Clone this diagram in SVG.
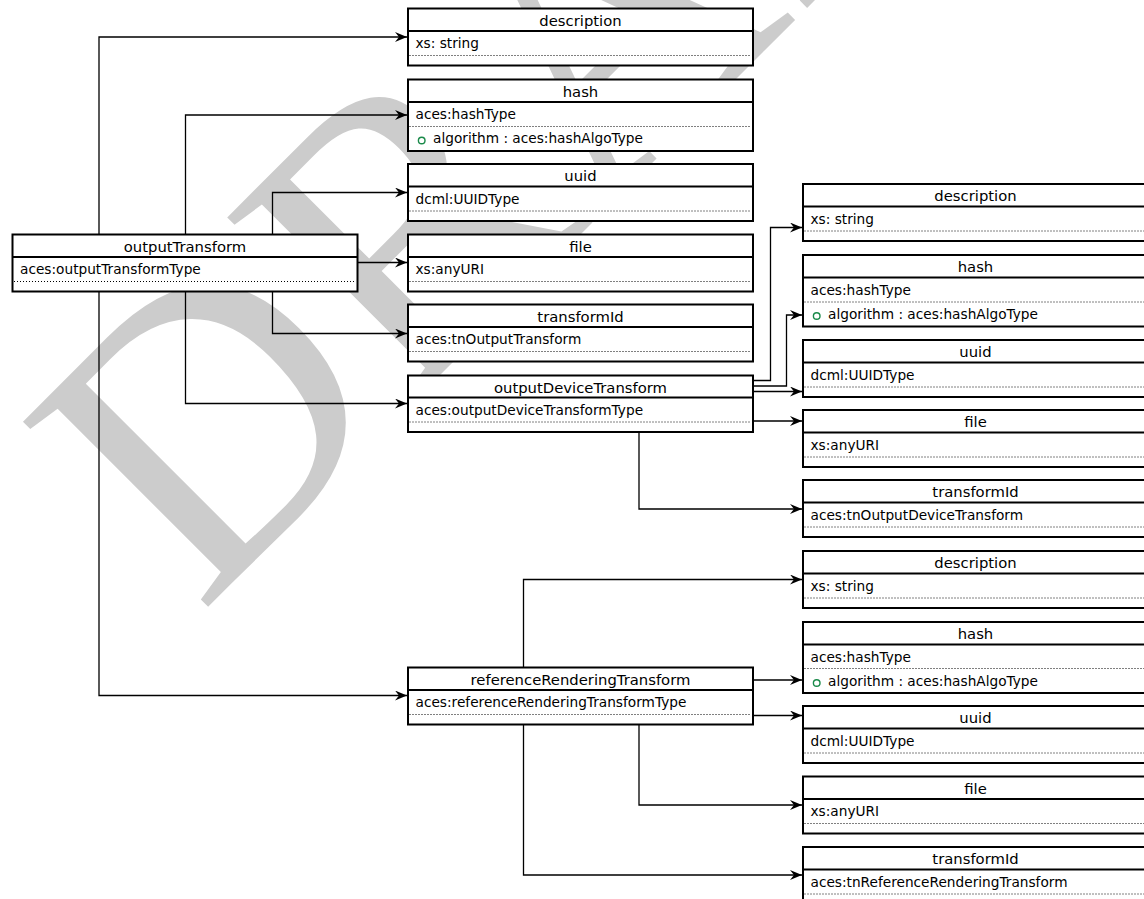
<svg xmlns="http://www.w3.org/2000/svg" width="1144" height="899" viewBox="0 0 1144 899">
<defs>
<style>
.box{fill:#fff;stroke:#000;stroke-width:2}
.sep{stroke:#000;stroke-width:2}
.dot{stroke:#000;stroke-width:1;stroke-dasharray:1 2}
.hd{font-family:"DejaVu Sans",Verdana,sans-serif;font-size:14.8px;fill:#000;text-anchor:middle}
.bd{font-family:"DejaVu Sans",Verdana,sans-serif;font-size:13.7px;fill:#000}
.att{fill:none;stroke:#1a8a4a;stroke-width:1.4}
.cn{fill:none;stroke:#000;stroke-width:1.3}
.wm{font-family:"Liberation Serif","Times New Roman",serif;font-size:400px;fill:#cccccc}
</style>
<marker id="arr" markerUnits="userSpaceOnUse" markerWidth="14" markerHeight="12" refX="12" refY="5" orient="auto">
<path d="M0,0 L12,5 L0,10 L4,5 Z" fill="#000"/>
</marker>
</defs>
<rect width="1144" height="899" fill="#fff"/>
<g id="watermark">
<text class="wm" transform="translate(200,615) rotate(-45)">DRAFT</text>
</g>
<g id="connectors" class="cn" marker-end="url(#arr)">
<path d="M99,234 V37 H407"/>
<path d="M185.5,234 V115 H407"/>
<path d="M272.5,234 V192.5 H407"/>
<path d="M358,262.5 H407"/>
<path d="M272.5,291 V333.5 H407"/>
<path d="M185.5,291 V403.5 H407"/>
<path d="M99,291 V695.5 H407"/>
<path d="M753,380.5 H770.5 V227.5 H802"/>
<path d="M753,386 H786.5 V315 H802"/>
<path d="M753,391.5 H802"/>
<path d="M753,421 H802"/>
<path d="M639,432 V509 H802"/>
<path d="M523.5,667 V579.5 H802"/>
<path d="M753,680 H802"/>
<path d="M753,715.5 H802"/>
<path d="M639,724 V805 H802"/>
<path d="M523.5,724 V875 H802"/>
</g>
<g id="outputTransform">
<rect class="box" x="12.5" y="234.5" width="345" height="57"/>
<line class="sep" x1="12.5" y1="257" x2="357.5" y2="257"/>
<line class="dot" x1="14" y1="281.5" x2="356" y2="281.5"/>
<text class="hd" x="185" y="251.5">outputTransform</text>
<text class="bd" x="20" y="274">aces:outputTransformType</text>
</g>
<g id="description1">
<rect class="box" x="408" y="8.5" width="345" height="57"/>
<line class="sep" x1="408" y1="31" x2="753" y2="31"/>
<line class="dot" x1="409.5" y1="55.5" x2="751.5" y2="55.5"/>
<text class="hd" x="580.5" y="25.5">description</text>
<text class="bd" x="415.5" y="48">xs: string</text>
</g>
<g id="hash1">
<rect class="box" x="408" y="79.5" width="345" height="71.5"/>
<line class="sep" x1="408" y1="102" x2="753" y2="102"/>
<line class="dot" x1="409.5" y1="126.5" x2="751.5" y2="126.5"/>
<text class="hd" x="580.5" y="96.5">hash</text>
<text class="bd" x="415.5" y="119">aces:hashType</text>
<circle class="att" cx="421.7" cy="140.5" r="3.3"/>
<text class="bd" x="433" y="143">algorithm : aces:hashAlgoType</text>
</g>
<g id="uuid1">
<rect class="box" x="408" y="164" width="345" height="57"/>
<line class="sep" x1="408" y1="186.5" x2="753" y2="186.5"/>
<line class="dot" x1="409.5" y1="211" x2="751.5" y2="211"/>
<text class="hd" x="580.5" y="181">uuid</text>
<text class="bd" x="415.5" y="203.5">dcml:UUIDType</text>
</g>
<g id="file1">
<rect class="box" x="408" y="234.5" width="345" height="57"/>
<line class="sep" x1="408" y1="257" x2="753" y2="257"/>
<line class="dot" x1="409.5" y1="281.5" x2="751.5" y2="281.5"/>
<text class="hd" x="580.5" y="251.5">file</text>
<text class="bd" x="415.5" y="274">xs:anyURI</text>
</g>
<g id="transformId1">
<rect class="box" x="408" y="304.5" width="345" height="57"/>
<line class="sep" x1="408" y1="327" x2="753" y2="327"/>
<line class="dot" x1="409.5" y1="351.5" x2="751.5" y2="351.5"/>
<text class="hd" x="580.5" y="321.5">transformId</text>
<text class="bd" x="415.5" y="344">aces:tnOutputTransform</text>
</g>
<g id="outputDeviceTransform">
<rect class="box" x="408" y="375.5" width="345" height="56.5"/>
<line class="sep" x1="408" y1="397.5" x2="753" y2="397.5"/>
<line class="dot" x1="409.5" y1="422" x2="751.5" y2="422"/>
<text class="hd" x="580.5" y="392.5">outputDeviceTransform</text>
<text class="bd" x="415.5" y="414.5">aces:outputDeviceTransformType</text>
</g>
<g id="referenceRenderingTransform">
<rect class="box" x="408" y="667.5" width="345" height="57"/>
<line class="sep" x1="408" y1="690" x2="753" y2="690"/>
<line class="dot" x1="409.5" y1="714.5" x2="751.5" y2="714.5"/>
<text class="hd" x="580.5" y="684.5">referenceRenderingTransform</text>
<text class="bd" x="415.5" y="707">aces:referenceRenderingTransformType</text>
</g>
<g id="description2">
<rect class="box" x="803" y="184" width="345" height="57"/>
<line class="sep" x1="803" y1="206.5" x2="1148" y2="206.5"/>
<line class="dot" x1="804.5" y1="231" x2="1146" y2="231"/>
<text class="hd" x="975.5" y="201">description</text>
<text class="bd" x="810.5" y="223.5">xs: string</text>
</g>
<g id="hash2">
<rect class="box" x="803" y="255" width="345" height="71.5"/>
<line class="sep" x1="803" y1="277.5" x2="1148" y2="277.5"/>
<line class="dot" x1="804.5" y1="302" x2="1146" y2="302"/>
<text class="hd" x="975.5" y="272">hash</text>
<text class="bd" x="810.5" y="294.5">aces:hashType</text>
<circle class="att" cx="816.7" cy="316" r="3.3"/>
<text class="bd" x="828" y="318.5">algorithm : aces:hashAlgoType</text>
</g>
<g id="uuid2">
<rect class="box" x="803" y="340" width="345" height="57"/>
<line class="sep" x1="803" y1="362.5" x2="1148" y2="362.5"/>
<line class="dot" x1="804.5" y1="387" x2="1146" y2="387"/>
<text class="hd" x="975.5" y="357">uuid</text>
<text class="bd" x="810.5" y="379.5">dcml:UUIDType</text>
</g>
<g id="file2">
<rect class="box" x="803" y="410" width="345" height="57"/>
<line class="sep" x1="803" y1="432.5" x2="1148" y2="432.5"/>
<line class="dot" x1="804.5" y1="457" x2="1146" y2="457"/>
<text class="hd" x="975.5" y="427">file</text>
<text class="bd" x="810.5" y="449.5">xs:anyURI</text>
</g>
<g id="transformId2">
<rect class="box" x="803" y="480" width="345" height="57"/>
<line class="sep" x1="803" y1="502.5" x2="1148" y2="502.5"/>
<line class="dot" x1="804.5" y1="527" x2="1146" y2="527"/>
<text class="hd" x="975.5" y="497">transformId</text>
<text class="bd" x="810.5" y="519.5">aces:tnOutputDeviceTransform</text>
</g>
<g id="description3">
<rect class="box" x="803" y="551" width="345" height="57"/>
<line class="sep" x1="803" y1="573.5" x2="1148" y2="573.5"/>
<line class="dot" x1="804.5" y1="598" x2="1146" y2="598"/>
<text class="hd" x="975.5" y="568">description</text>
<text class="bd" x="810.5" y="590.5">xs: string</text>
</g>
<g id="hash3">
<rect class="box" x="803" y="622" width="345" height="71"/>
<line class="sep" x1="803" y1="644.5" x2="1148" y2="644.5"/>
<line class="dot" x1="804.5" y1="668.5" x2="1146" y2="668.5"/>
<text class="hd" x="975.5" y="639">hash</text>
<text class="bd" x="810.5" y="661.5">aces:hashType</text>
<circle class="att" cx="816.7" cy="683" r="3.3"/>
<text class="bd" x="828" y="685.5">algorithm : aces:hashAlgoType</text>
</g>
<g id="uuid3">
<rect class="box" x="803" y="706" width="345" height="57"/>
<line class="sep" x1="803" y1="728.5" x2="1148" y2="728.5"/>
<line class="dot" x1="804.5" y1="753" x2="1146" y2="753"/>
<text class="hd" x="975.5" y="723">uuid</text>
<text class="bd" x="810.5" y="745.5">dcml:UUIDType</text>
</g>
<g id="file3">
<rect class="box" x="803" y="776.5" width="345" height="57"/>
<line class="sep" x1="803" y1="799" x2="1148" y2="799"/>
<line class="dot" x1="804.5" y1="823.5" x2="1146" y2="823.5"/>
<text class="hd" x="975.5" y="793.5">file</text>
<text class="bd" x="810.5" y="816">xs:anyURI</text>
</g>
<g id="transformId3">
<rect class="box" x="803" y="847" width="345" height="57"/>
<line class="sep" x1="803" y1="869.5" x2="1148" y2="869.5"/>
<line class="dot" x1="804.5" y1="894" x2="1146" y2="894"/>
<text class="hd" x="975.5" y="864">transformId</text>
<text class="bd" x="810.5" y="886.5">aces:tnReferenceRenderingTransform</text>
</g>
</svg>
